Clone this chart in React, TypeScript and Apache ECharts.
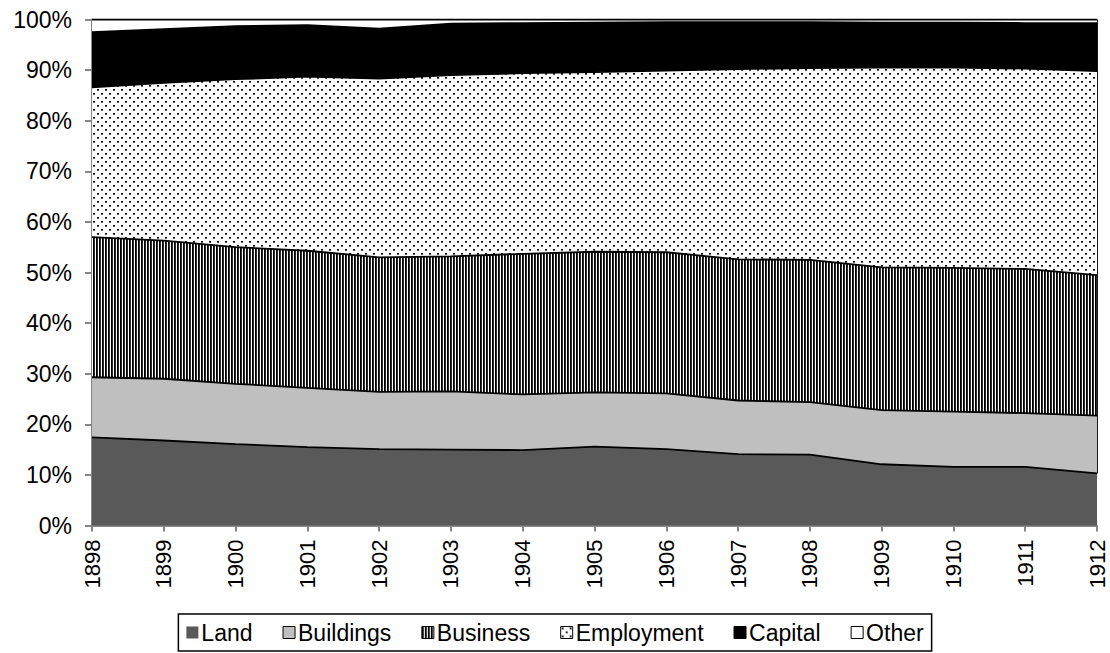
import React, { useEffect, useRef } from "react";
import * as echarts from "echarts";

const YEARS = ["1898", "1899", "1900", "1901", "1902", "1903", "1904", "1905", "1906", "1907", "1908", "1909", "1910", "1911", "1912"];
const LAND = [17.4, 16.8, 16.1, 15.5, 15.1, 15.0, 14.9, 15.6, 15.1, 14.1, 14.0, 12.1, 11.6, 11.6, 10.3];
const BUILDINGS = [11.9, 12.2, 11.9, 11.7, 11.3, 11.5, 11.0, 10.7, 11.0, 10.6, 10.4, 10.7, 10.9, 10.6, 11.4];
const BUSINESS = [27.7, 27.3, 27.0, 27.1, 26.6, 26.7, 27.8, 27.8, 27.9, 27.9, 28.1, 28.2, 28.4, 28.5, 27.8];
const EMPLOYMENT = [29.6, 31.2, 33.2, 34.4, 35.3, 35.8, 35.7, 35.5, 35.9, 37.6, 37.9, 39.5, 39.6, 39.6, 40.3];
const CAPITAL = [10.9, 10.6, 10.5, 10.2, 9.9, 10.2, 9.9, 9.8, 9.6, 9.3, 9.1, 8.9, 8.9, 9.0, 9.5];
const OTHER = [2.5, 1.9, 1.3, 1.1, 1.8, 0.8, 0.7, 0.6, 0.5, 0.5, 0.5, 0.6, 0.6, 0.7, 0.7];
const SERIES_NAMES = ["Land", "Buildings", "Business", "Employment", "Capital", "Other"];

const FONT = "'Liberation Sans', Arial, sans-serif";

function stripePattern() {
  const c = document.createElement("canvas");
  c.width = 3;
  c.height = 4;
  const g = c.getContext("2d")!;
  g.fillStyle = "#fff";
  g.fillRect(0, 0, 3, 4);
  g.fillStyle = "#000";
  g.fillRect(0, 0, 1, 4);
  g.fillStyle = "#2a2a2a";
  g.fillRect(1, 0, 1, 4);
  return { image: c.toDataURL(), repeat: "repeat", imageWidth: 3, imageHeight: 4 };
}

function dotPattern() {
  const c = document.createElement("canvas");
  c.width = 8;
  c.height = 8;
  const g = c.getContext("2d")!;
  g.fillStyle = "#fff";
  g.fillRect(0, 0, 8, 8);
  g.fillStyle = "#000";
  g.fillRect(1, 1, 2, 1);
  g.fillRect(5, 5, 2, 1);
  g.fillStyle = "#555";
  g.fillRect(1, 2, 2, 1);
  g.fillRect(5, 6, 2, 1);
  return { image: c.toDataURL(), repeat: "repeat", imageWidth: 8, imageHeight: 8 };
}

export default function App() {
  const ref = useRef<HTMLDivElement>(null);
  useEffect(() => {
    if (!ref.current) return;
    const chart = echarts.init(ref.current, undefined, { renderer: "svg" });
    const stripes = stripePattern();
    const dots = dotPattern();
    const fills: any[] = ["#595959", "#bfbfbf", stripes, dots, "#000000", "#ffffff"];
    const values = [LAND, BUILDINGS, BUSINESS, EMPLOYMENT, CAPITAL, OTHER];
    const series: any[] = SERIES_NAMES.map((name, i) => ({
      name,
      type: "line",
      stack: "total",
      data: values[i],
      symbol: "none",
      showSymbol: false,
      smooth: false,
      silent: true,
      z: 10 - i,
      lineStyle: { color: "#000", width: 1.8 },
      areaStyle: { color: fills[i], opacity: 1 },
      emphasis: { disabled: true },
    }));
    series[0].markLine = {
      silent: true,
      symbol: ["none", "none"],
      label: { show: false },
      lineStyle: { color: "#000", width: 1.8, type: "solid" },
      data: [
        [
          { coord: [YEARS.length - 1, LAND[LAND.length - 1]] },
          { coord: [YEARS.length - 1, 100] },
        ],
      ],
    };
    chart.setOption({
      animation: false,
      backgroundColor: "#fff",
      grid: { left: 92, right: 13, top: 19.5, bottom: 127.5, containLabel: false },
      xAxis: {
        type: "category",
        data: YEARS,
        boundaryGap: false,
        axisLine: { lineStyle: { color: "#868686", width: 2 } },
        axisTick: { show: true, length: 6, lineStyle: { color: "#868686", width: 2 } },
        axisLabel: { rotate: 90, margin: 14, fontSize: 22, color: "#000", fontFamily: FONT, interval: 0 },
        splitLine: { show: false },
      },
      yAxis: {
        type: "value",
        min: 0,
        max: 100,
        interval: 10,
        axisLine: { show: true, lineStyle: { color: "#868686", width: 2 } },
        axisTick: { show: true, length: 7, lineStyle: { color: "#868686", width: 2 } },
        axisLabel: { formatter: "{value}%", margin: 20, fontSize: 23, color: "#000", fontFamily: FONT },
        splitLine: { show: false },
      },
      legend: {
        bottom: 2,
        left: "center",
        icon: "rect",
        itemWidth: 12,
        itemHeight: 12,
        itemGap: 30,
        selectedMode: false,
        borderColor: "#000",
        borderWidth: 1.5,
        padding: [7, 8],
        textStyle: { fontSize: 23, color: "#000", fontFamily: FONT, padding: [0, 0, 0, -2] },
        data: SERIES_NAMES.map((name, i) => ({
          name,
          itemStyle: {
            color: fills[i],
            borderColor: i === 0 ? "#595959" : "#000",
            borderWidth: i === 0 ? 0 : 1,
          },
        })),
      },
      series,
    });
    return () => chart.dispose();
  }, []);
  return (
    <div
      ref={ref}
      style={{ position: "fixed", left: 0, top: 0, width: 1110, height: 653, background: "#fff" }}
    />
  );
}
